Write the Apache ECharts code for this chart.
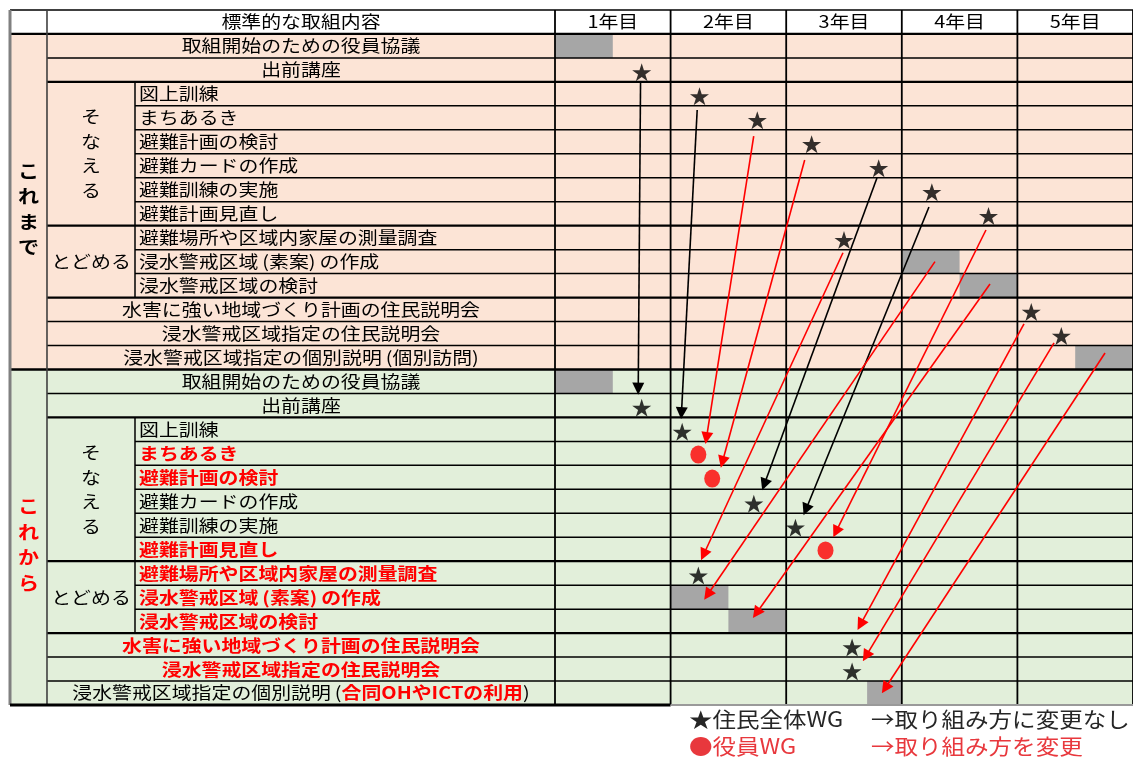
<!DOCTYPE html>
<html lang="ja">
<head>
<meta charset="utf-8">
<title>標準的な取組内容</title>
<script src="https://cdn.jsdelivr.net/npm/echarts@6/dist/echarts.min.js"></script>
<style>
html,body{margin:0;padding:0;background:#ffffff;}
#chart{width:1133px;height:757px;}
</style>
</head>
<body>
<div id="chart"></div>
<script>
// ---------------- data ----------------
const years = ['1年目','2年目','3年目','4年目','5年目'];
const headerLabel = '標準的な取組内容';
const sectionLabels = ['これまで','これから'];
const subgroupLabels = ['そなえる','とどめる'];
const subgroupRows = [[2,7],[8,10]];
const itemsBefore = ['取組開始のための役員協議','出前講座','図上訓練','まちあるき','避難計画の検討','避難カードの作成','避難訓練の実施','避難計画見直し','避難場所や区域内家屋の測量調査','浸水警戒区域\u2009(素案)\u2009の作成','浸水警戒区域の検討','水害に強い地域づくり計画の住民説明会','浸水警戒区域指定の住民説明会','浸水警戒区域指定の個別説明\u2009(個別訪問)'];
const itemsAfter = ['取組開始のための役員協議','出前講座','図上訓練','まちあるき','避難計画の検討','避難カードの作成','避難訓練の実施','避難計画見直し','避難場所や区域内家屋の測量調査','浸水警戒区域\u2009(素案)\u2009の作成','浸水警戒区域の検討','水害に強い地域づくり計画の住民説明会','浸水警戒区域指定の住民説明会','浸水警戒区域指定の個別説明\u2009([合同OHやICTの利用])'];
const changedAfter = [0,0,0,1,1,0,0,1,1,1,1,1,1,0];
// [row, fromYear, toYear]
const grayBefore = [[0,0,0.5],[9,3,3.5],[10,3.5,4],[13,4.5,5]];
const grayAfter  = [[0,0,0.5],[9,1,1.5],[10,1.5,2],[13,2.7,3]];
// [row, yearPosition]
const starsBefore = [[1,0.75],[2,1.25],[3,1.75],[4,2.22],[5,2.8],[6,3.26],[7,3.75],[8,2.5],[11,4.12],[12,4.38]];
const starsAfter  = [[1,0.75],[2,1.1],[5,1.72],[6,2.08],[8,1.24],[11,2.57],[12,2.57]];
const circlesAfter = [[3,1.24],[4,1.36],[7,2.34]];
// arrows [fromYear, fromRow, toYear, toRow] (rows counted over both blocks)
const arrowsSame = [[0.74,2.0,0.72,14.8],[1.23,3.17,1.094,15.82],[2.785,6.01,1.81,18.8],[3.235,7.22,2.17,19.85]];
const arrowsChanged = [[1.719,4.26,1.31,16.86],[2.16,5.26,1.448,17.86],[3.728,8.18,2.43,20.78],[2.491,9.13,1.285,21.73],[3.287,9.5,1.32,23.4],[3.763,10.43,1.742,24.17],[4.057,12.1,2.642,24.65],[4.317,12.89,2.69,25.96],[4.758,13.31,2.856,27.3]];
const legendRows = [['★住民全体WG','→取り組み方に変更なし'],['●役員WG','→取り組み方を変更']];

// ---------------- layout / style ----------------
const X_LEFT = -4.7145, X_SUB = -4.3945, X_ITEM = -3.6332, X_END = 5;
const ROWS = itemsBefore.length;
const C = {before:'#FCE4D6', after:'#E2EFDA', header:'#FFFFFF', gray:'#A6A6A6', red:'#FF0000', black:'#000000', legendBlack:'#262626', legendRed:'#E8383D'};
const FONT = '"Noto Sans CJK JP","Noto Sans",sans-serif';
const FS = 17, SX = 1.17;
const STAR = 'path://M50,0 L61.2,34.5 L97.6,34.5 L68.2,55.9 L79.4,90.5 L50,69.1 L20.6,90.5 L31.8,55.9 L2.4,34.5 L38.8,34.5 Z';

// backgrounds
const bands = [[-1,0,C.header],[0,ROWS,C.before],[ROWS,2*ROWS,C.after]];
// gray cells
const grayCells = grayBefore.map(([r,a,b])=>[a,b,r]).concat(grayAfter.map(([r,a,b])=>[a,b,r+ROWS]));

// grid lines [x1,v1,x2,v2,width,color]
const gridLines = [];
gridLines.push([X_LEFT,-1,X_END,-1,1.6,C.black]);
gridLines.push([X_LEFT,0,X_END,0,2.2,C.black]);
gridLines.push([X_LEFT,ROWS,X_END,ROWS,2.6,C.black]);
for (let k=0;k<2;k++){
  const o=k*ROWS;
  for (let r=1;r<ROWS;r++){
    const inside = subgroupRows.some(([a,b])=>r>a && r<=b);
    const thick = subgroupRows.some(([a,b])=> r===a || r===b+1);
    gridLines.push([inside?X_ITEM:X_SUB, o+r, X_END, o+r, thick?2.3:1.5, C.black]);
  }
  gridLines.push([X_ITEM, o+subgroupRows[0][0], X_ITEM, o+subgroupRows[1][1]+1, 1.5, C.black]);
}
gridLines.push([X_LEFT,-1,X_LEFT,2*ROWS,3,'#808080']);
gridLines.push([X_SUB,-1,X_SUB,2*ROWS,1.6,'#404040']);
for (let i=0;i<=years.length;i++) gridLines.push([i,-1,i,2*ROWS,1.8,C.black]);
gridLines.push([X_LEFT,2*ROWS,1.0,2*ROWS,3,C.black]);
gridLines.push([1.0,2*ROWS,X_END,2*ROWS,2,'#9a9a9a']);

// texts
const texts = [];
texts.push({x:(X_SUB+0)/2, v:-0.5, text:headerLabel});
years.forEach((y,i)=>texts.push({x:i+0.5, v:-0.5, text:y}));
sectionLabels.forEach((s,k)=>texts.push({x:(X_LEFT+X_SUB)/2, v:k*ROWS+7.3, text:s.split('').join('\n'), bold:true, color:k?C.red:C.black, lh:25.5, fs:18}));
for (let k=0;k<2;k++){
  const o=k*ROWS;
  subgroupRows.forEach(([a,b],g)=>{
    const lab = subgroupLabels[g];
    if (b-a+1 >= lab.length+1) texts.push({x:(X_SUB+X_ITEM)/2, v:o+(a+b+1)/2, text:lab.split('').join('\n'), lh:24.5});
    else texts.push({x:(X_SUB+X_ITEM)/2, v:o+(a+b+1)/2, text:lab});
  });
  const items = k?itemsAfter:itemsBefore;
  items.forEach((it,r)=>{
    const inSub = subgroupRows.some(([a,b])=>r>=a && r<=b);
    const red = k && changedAfter[r];
    const t = {v:o+r+0.5, text:it, bold:!!red, color:red?C.red:C.black};
    if (inSub){ t.x = X_ITEM+0.035; t.align='left'; } else { t.x = (X_SUB+0)/2; }
    texts.push(t);
  });
}

function styleFor(t){
  const fs = t.fs||FS;
  const s = {fill:t.color||C.black, fontSize:fs, fontFamily:FONT, fontWeight:t.bold?'bold':'normal',
    align:t.align||'center', verticalAlign:'middle', textAlign:t.align||'center', textVerticalAlign:'middle'};
  if (t.lh) s.lineHeight = t.lh;
  if (t.text.indexOf('[')>=0){
    s.text = t.text.replace(/([^\[\]]+)|\[([^\]]+)\]/g,(m,n,r)=> n?('{n|'+n+'}'):('{r|'+r+'}'));
    s.rich = {n:{fill:C.black,fontSize:fs,fontFamily:FONT,fontWeight:'normal'}, r:{fill:C.red,fontSize:fs,fontFamily:FONT,fontWeight:'bold'}};
  } else s.text = t.text;
  return s;
}

const idx = a => a.map((_,i)=>[i,0]);

const option = {
  animation:false,
  backgroundColor:'#ffffff',
  grid:{left:10,right:0,top:10,bottom:52},
  xAxis:{type:'value',min:X_LEFT,max:X_END,show:false},
  yAxis:{type:'value',min:-1,max:2*ROWS,inverse:true,show:false},
  graphic: legendRows.flatMap((row,i)=>row.map((txt,j)=>({
    type:'text', x:[689,871][j], y:719+27*i, scaleX:1.12, z:100,
    style:{text:txt, fill:i?C.legendRed:C.legendBlack, fontSize:21, fontFamily:FONT, verticalAlign:'middle', textVerticalAlign:'middle'}
  }))),
  series:[
    {type:'custom', name:'bands', z:1, silent:true, data:idx(bands),
     renderItem:(p,api)=>{const b=bands[p.dataIndex];const a=api.coord([X_LEFT,b[0]]),c=api.coord([X_END,b[1]]);
       return {type:'rect',shape:{x:a[0],y:a[1],width:c[0]-a[0],height:c[1]-a[1]},style:{fill:b[2]}};}},
    {type:'custom', name:'grayCells', z:2, silent:true, data:grayCells,
     renderItem:(p,api)=>{const a=api.coord([api.value(0),api.value(2)]),c=api.coord([api.value(1),api.value(2)+1]);
       return {type:'rect',shape:{x:a[0],y:a[1],width:c[0]-a[0],height:c[1]-a[1]},style:{fill:C.gray}};}},
    {type:'custom', name:'grid', z:3, silent:true, data:idx(gridLines),
     renderItem:(p,api)=>{const g=gridLines[p.dataIndex];const a=api.coord([g[0],g[1]]),c=api.coord([g[2],g[3]]);
       return {type:'line',shape:{x1:a[0],y1:a[1],x2:c[0],y2:c[1]},style:{stroke:g[5],lineWidth:g[4]}};}},
    {type:'custom', name:'labels', z:4, silent:true, data:idx(texts),
     renderItem:(p,api)=>{const t=texts[p.dataIndex];const a=api.coord([t.x,t.v]);
       return {type:'text',x:a[0],y:a[1],scaleX:SX,style:styleFor(t)};}},
    {type:'lines', name:'取り組み方に変更なし', coordinateSystem:'cartesian2d', z:5, silent:true,
     symbol:['none','triangle'], symbolSize:[0,12],
     lineStyle:{color:C.black,width:1.6,opacity:1},
     data:arrowsSame.map(a=>({coords:[[a[0],a[1]],[a[2],a[3]]]}))},
    {type:'lines', name:'取り組み方を変更', coordinateSystem:'cartesian2d', z:5, silent:true,
     symbol:['none','triangle'], symbolSize:[0,12],
     lineStyle:{color:C.red,width:1.6,opacity:1},
     data:arrowsChanged.map(a=>({coords:[[a[0],a[1]],[a[2],a[3]]]}))},
    {type:'scatter', name:'住民全体WG', z:6, silent:true, symbol:STAR, symbolSize:[19,18],
     itemStyle:{color:C.black},
     data:starsBefore.map(([r,t])=>[t,r+0.6]).concat(starsAfter.map(([r,t])=>[t,ROWS+r+0.6]))},
    {type:'scatter', name:'役員WG', z:6, silent:true, symbol:'circle', symbolSize:[16,18],
     itemStyle:{color:C.red},
     data:circlesAfter.map(([r,t])=>[t,ROWS+r+0.55])}
  ]
};
const chart = echarts.init(document.getElementById('chart'));
chart.setOption(option);
</script>
</body>
</html>
